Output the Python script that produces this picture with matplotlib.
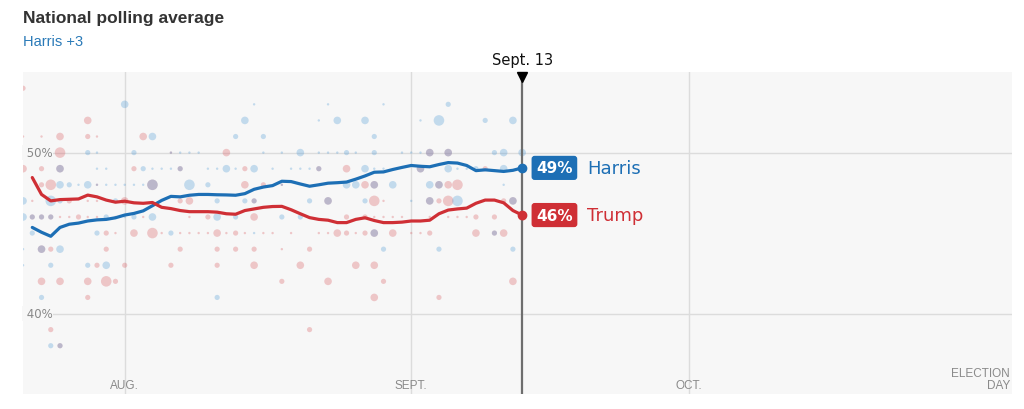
import numpy as np
import matplotlib.pyplot as plt
from matplotlib import font_manager
from matplotlib.transforms import blended_transform_factory

# days are counted from July 21, 2024
start = np.datetime64('2024-07-21')
end = np.datetime64('2024-11-05')
today = np.datetime64('2024-09-13')

avg_days = np.arange(1, 55)
harris_avg = [45.35, 45.05, 44.8, 45.35, 45.55, 45.62, 45.75, 45.82, 45.85, 45.95,
              46.12, 46.22, 46.38, 46.7, 47.03, 47.28, 47.25, 47.35, 47.4, 47.4,
              47.38, 47.37, 47.35, 47.45, 47.72, 47.86, 47.95, 48.22, 48.2, 48.05,
              47.91, 48.0, 48.1, 48.13, 48.17, 48.35, 48.55, 48.78, 48.8, 48.95,
              49.08, 49.2, 49.15, 49.12, 49.26, 49.38, 49.35, 49.2, 48.88, 48.93,
              48.88, 48.83, 48.9, 49.05]
trump_avg = [48.45, 47.4, 47.0, 47.08, 47.1, 47.12, 47.36, 47.25, 47.05, 46.92,
             46.98, 46.88, 46.85, 46.9, 46.6, 46.52, 46.4, 46.33, 46.33, 46.33,
             46.3, 46.2, 46.17, 46.4, 46.5, 46.6, 46.65, 46.66, 46.45, 46.2,
             45.96, 45.85, 45.8, 45.65, 45.65, 45.85, 45.95, 45.78, 45.65, 45.65,
             45.68, 45.75, 45.75, 45.8, 46.2, 46.43, 46.5, 46.55, 46.85, 47.05,
             47.05, 46.88, 46.4, 46.12]

# individual polls: (day, pct, weight 1..4)
harris_polls = [
    (11, 53, 3), (25, 53, 1), (33, 53, 1), (39, 53, 1), (46, 53, 2),
    (24, 52, 3), (32, 52, 1), (34, 52, 3), (37, 52, 3), (43, 52, 1), (45, 52, 4), (50, 52, 2), (53, 52, 3),
    (14, 51, 3), (23, 51, 2), (26, 51, 2), (38, 51, 2),
    (7, 50, 2), (8, 50, 1), (12, 50, 2), (16, 50, 1), (17, 50, 1), (18, 50, 1), (19, 50, 1), (26, 50, 1),
    (28, 50, 1), (30, 50, 3), (32, 50, 1), (33, 50, 1), (34, 50, 1), (35, 50, 2), (36, 50, 1), (38, 50, 2),
    (41, 50, 1), (42, 50, 1), (43, 50, 1), (44, 50, 3), (46, 50, 3), (51, 50, 2), (52, 50, 3), (54, 50, 3),
    (4, 49, 3), (8, 49, 1), (9, 49, 1), (13, 49, 2), (14, 49, 1), (15, 49, 1), (16, 49, 1), (17, 49, 2),
    (20, 49, 1), (21, 49, 1), (22, 49, 3), (23, 49, 1), (25, 49, 3), (27, 49, 1), (29, 49, 1), (30, 49, 1),
    (31, 49, 1), (32, 49, 2), (37, 49, 3), (38, 49, 1), (39, 49, 1), (43, 49, 3), (46, 49, 3), (47, 49, 1),
    (48, 49, 1), (49, 49, 2), (52, 49, 3),
    (4, 48, 3), (5, 48, 2), (6, 48, 1), (7, 48, 3), (8, 48, 1), (9, 48, 1), (10, 48, 1), (11, 48, 1),
    (12, 48, 1), (13, 48, 1), (14, 48, 4), (18, 48, 4), (20, 48, 2), (28, 48, 1), (35, 48, 3), (36, 48, 3),
    (38, 48, 3), (40, 48, 3), (44, 48, 3), (45, 48, 3), (52, 48, 1),
    (0, 47, 3), (3, 47, 4), (4, 47, 2), (10, 47, 2), (21, 47, 2), (24, 47, 2), (25, 47, 2), (31, 47, 2),
    (33, 47, 3), (37, 47, 2), (42, 47, 1), (44, 47, 3), (47, 47, 4), (53, 47, 3),
    (0, 46, 3), (1, 46, 2), (2, 46, 2), (3, 46, 2), (9, 46, 2), (11, 46, 1), (12, 46, 2), (14, 46, 3),
    (21, 46, 3), (23, 46, 2), (28, 46, 2), (30, 46, 2),
    (1, 45, 2), (8, 45, 2), (16, 45, 2), (25, 45, 1), (38, 45, 3), (51, 45, 2),
    (0, 44, 1), (2, 44, 3), (4, 44, 3), (39, 44, 2), (45, 44, 2), (53, 44, 2),
    (0, 43, 1), (3, 43, 2), (7, 43, 2), (9, 43, 3),
    (2, 41, 2), (21, 41, 2),
    (3, 38, 2), (4, 38, 2),
]
trump_polls = [
    (0, 54, 2),
    (7, 52, 3),
    (0, 51, 1), (2, 51, 1), (4, 51, 3), (7, 51, 2), (8, 51, 1), (13, 51, 3),
    (4, 50, 4), (16, 50, 1), (22, 50, 3), (44, 50, 3), (46, 50, 3),
    (0, 49, 3), (2, 49, 2), (4, 49, 3), (12, 49, 2), (17, 49, 2), (24, 49, 2), (32, 49, 2), (35, 49, 3),
    (43, 49, 3), (50, 49, 2),
    (2, 48, 2), (3, 48, 4), (8, 48, 1), (14, 48, 4), (24, 48, 3), (26, 48, 2), (28, 48, 1), (37, 48, 3),
    (38, 48, 3), (45, 48, 3), (46, 48, 3), (47, 48, 4),
    (1, 47, 1), (5, 47, 2), (7, 47, 1), (8, 47, 1), (11, 47, 3), (17, 47, 2), (18, 47, 3), (25, 47, 2),
    (33, 47, 3), (38, 47, 4), (39, 47, 1), (44, 47, 3), (45, 47, 2), (46, 47, 4), (52, 47, 2), (53, 47, 3),
    (1, 46, 2), (2, 46, 2), (3, 46, 2), (4, 46, 1), (5, 46, 1), (6, 46, 2), (7, 46, 1), (8, 46, 1),
    (10, 46, 1), (13, 46, 1), (18, 46, 1), (20, 46, 2), (25, 46, 3), (35, 46, 2), (37, 46, 2), (38, 46, 1),
    (39, 46, 1), (40, 46, 1), (41, 46, 1), (44, 46, 1), (46, 46, 1), (47, 46, 1), (48, 46, 1), (49, 46, 2),
    (51, 46, 2), (54, 46, 3),
    (9, 45, 2), (10, 45, 1), (12, 45, 3), (14, 45, 4), (15, 45, 1), (17, 45, 1), (18, 45, 1), (19, 45, 1),
    (20, 45, 1), (21, 45, 3), (22, 45, 1), (23, 45, 2), (24, 45, 1), (26, 45, 1), (27, 45, 1), (29, 45, 1),
    (32, 45, 1), (33, 45, 1), (34, 45, 3), (35, 45, 2), (36, 45, 1), (37, 45, 2), (38, 45, 3), (40, 45, 3),
    (42, 45, 1), (43, 45, 1), (44, 45, 2), (49, 45, 3), (51, 45, 2), (52, 45, 3),
    (2, 44, 3), (3, 44, 2), (9, 44, 2), (17, 44, 2), (21, 44, 2), (23, 44, 2), (25, 44, 2), (28, 44, 1),
    (31, 44, 2),
    (8, 43, 2), (11, 43, 2), (16, 43, 2), (21, 43, 2), (25, 43, 3), (30, 43, 3), (36, 43, 3), (38, 43, 3),
    (2, 42, 3), (4, 42, 3), (7, 42, 3), (9, 42, 4), (10, 42, 2), (28, 42, 2), (33, 42, 3), (39, 42, 2),
    (53, 42, 3),
    (7, 41, 2), (38, 41, 3), (45, 41, 2),
    (3, 39, 2), (31, 39, 2),
    (4, 38, 2),
]

month_ticks = ['2024-08-01', '2024-09-01', '2024-10-01']
month_labels = ['AUG.', 'SEPT.', 'OCT.']

BLUE = '#1d6fb5'
RED = '#cf2f35'
BG = '#f7f7f7'
marker_area = {1: 3, 2: 14, 3: 30, 4: 58}

# narrow face for the headline and axis labels if it is there
try:
    font_manager.findfont('Liberation Sans Narrow', fallback_to_default=False)
    NARROW = 'Liberation Sans Narrow'
except ValueError:
    NARROW = 'Liberation Sans'

fig = plt.figure(figsize=(10.24, 4.10), dpi=100)
ax = fig.add_axes([0.0225, 0.0366, 0.9658, 0.785])
ax.set_facecolor(BG)
for s in ax.spines.values():
    s.set_visible(False)
ax.set_xticks([])
ax.set_yticks([])
ax.set_xlim(start, end)
ax.set_ylim(35, 55)

for m in month_ticks:
    ax.axvline(np.datetime64(m), color='#dcdcdc', lw=1, zorder=0)
for v in (40, 50):
    ax.axhline(v, color='#dcdcdc', lw=1, zorder=0)
    ax.text(start, v, ' %d%%' % v, ha='left', va='center',
            fontsize=8.5, color='#888888', zorder=1,
            bbox=dict(facecolor=BG, edgecolor='none', pad=0.5))

for polls, col in ((trump_polls, '#d9555b'), (harris_polls, '#4a97d4')):
    d = start + np.array([p[0] for p in polls])
    v = [p[1] for p in polls]
    s = [marker_area[p[2]] for p in polls]
    ax.scatter(d, v, s=s, color=col, alpha=0.3, lw=0, zorder=2)

ax.plot(start + avg_days, harris_avg, color=BLUE, lw=2.3, zorder=4, solid_capstyle='round')
ax.plot(start + avg_days, trump_avg, color=RED, lw=2.3, zorder=4, solid_capstyle='round')

# today line
ax.axvline(today, color='#6e6e6e', lw=1.6, zorder=5)
ax.plot([today], [54.7], marker='v', color='black', markersize=7, clip_on=False, zorder=6)
ax.text(today, 55.3, 'Sept. 13', ha='center', va='bottom', fontsize=10.5, color='#111111')

ax.plot([today], [harris_avg[-1]], 'o', color=BLUE, markersize=6, zorder=6)
ax.plot([today], [trump_avg[-1]], 'o', color=RED, markersize=6, zorder=6)

for val, name, col in ((harris_avg[-1], 'Harris', BLUE), (trump_avg[-1], 'Trump', RED)):
    ax.annotate('%d%%' % round(val), xy=(today, val), xytext=(14, 0), textcoords='offset pixels',
                ha='left', va='center', fontsize=11, fontweight='bold', color='white',
                bbox=dict(boxstyle='round,pad=0.3,rounding_size=0.2', facecolor=col, edgecolor='none'))
    ax.annotate(name, xy=(today, val), xytext=(65, 0), textcoords='offset pixels',
                ha='left', va='center', fontsize=13, color=col)

tr = blended_transform_factory(ax.transData, ax.transAxes)
for m, lab in zip(month_ticks, month_labels):
    ax.text(np.datetime64(m), 0.008, lab, transform=tr, ha='center', va='bottom',
            fontsize=8.5, color='#8a8a8a', family=NARROW)
ax.text(0.998, 0.008, 'ELECTION\nDAY', transform=ax.transAxes, ha='right', va='bottom',
        fontsize=8.5, color='#8a8a8a', multialignment='right', linespacing=1.0, family=NARROW)

fig.text(0.0225, 1 - 19 / 410, 'National polling average', ha='left', va='center',
         fontsize=12.5, fontweight='bold', color='#333333', family=NARROW)
fig.text(0.0225, 1 - 42 / 410, 'Harris +3', ha='left', va='center',
         fontsize=10.5, color='#2a7ab8', family=NARROW)

fig.savefig('out.png', dpi=100, facecolor='white')
